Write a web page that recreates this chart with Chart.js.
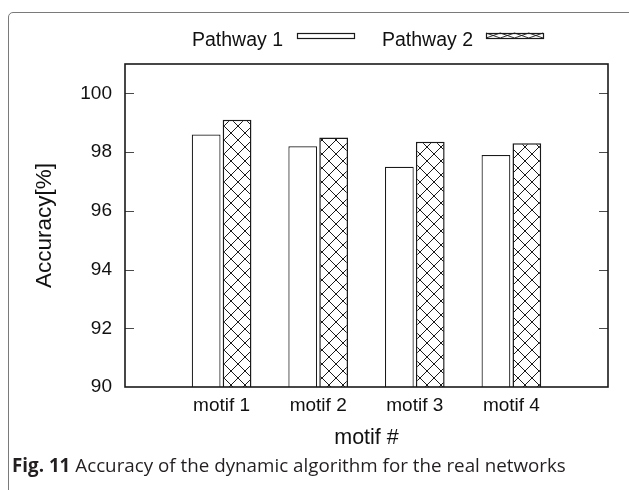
<!DOCTYPE html>
<html><head><meta charset="utf-8">
<script src="https://cdn.jsdelivr.net/npm/chart.js@4/dist/chart.umd.min.js"></script>
<style>
html,body{margin:0;padding:0;background:#fff;width:629px;height:490px;overflow:hidden;}
#wrap{position:relative;width:629px;height:490px;}
#frame{position:absolute;left:8px;top:12px;width:700px;height:600px;border:1px solid #7a7a7a;border-radius:5px;box-sizing:border-box;}
canvas{position:absolute;left:0;top:0;}
#cap{position:absolute;left:12px;top:452px;font-family:'Open Sans',sans-serif;font-size:18.8px;color:#231f20;white-space:nowrap;z-index:2;}
</style></head><body>
<div id="wrap"><div id="frame"></div><canvas id="c" width="629" height="490"></canvas><div id="cap"><b>Fig. 11</b> Accuracy of the dynamic algorithm for the real networks</div></div>
<script>
const categories = ['motif 1', 'motif 2', 'motif 3', 'motif 4'];
const pathway1 = [98.6, 98.2, 97.5, 97.9];
const pathway2 = [99.1, 98.5, 98.35, 98.3];
const seriesNames = ['Pathway 1', 'Pathway 2'];
const yMin = 90, yMax = 101, yStep = 2;
const xTitle = 'motif #';
const yTitle = 'Accuracy[%]';

// pad category axis with an empty slot on each side
const labels = [''].concat(categories, ['']);
const pad = arr => [null].concat(arr, [null]);

function makeHatch(){
  const t = document.createElement('canvas');
  t.width = 14; t.height = 14;
  const g = t.getContext('2d');
  g.fillStyle = '#fff'; g.fillRect(0,0,14,14);
  g.strokeStyle = '#1a1a1a'; g.lineWidth = 1;
  g.beginPath();
  g.moveTo(-1,-1); g.lineTo(15,15);
  g.moveTo(15,-1); g.lineTo(-1,15);
  g.stroke();
  return document.getElementById('c').getContext('2d').createPattern(t,'repeat');
}
const hatch = makeHatch();
const FONT = "'Liberation Sans', Arial, sans-serif";

const framePlugin = {
  id: 'frameTicks',
  afterDatasetsDraw(chart){
    const {ctx, chartArea:a, scales:{y}} = chart;
    ctx.save();
    ctx.strokeStyle = '#4a4a4a'; ctx.lineWidth = 1;
    y.ticks.forEach(t => {
      const py = Math.round(y.getPixelForValue(t.value)) + 0.5;
      if (py <= a.top + 2 || py >= a.bottom - 2) return;
      ctx.beginPath();
      ctx.moveTo(a.left, py); ctx.lineTo(a.left + 9, py);
      ctx.moveTo(a.right - 9, py); ctx.lineTo(a.right, py);
      ctx.stroke();
    });
    ctx.strokeStyle = '#1a1a1a'; ctx.lineWidth = 1.6;
    ctx.strokeRect(a.left, a.top, a.right - a.left, a.bottom - a.top);
    ctx.restore();
  },
  afterDraw(chart){
    const ctx = chart.ctx;
    const ds = chart.data.datasets;
    const textRight = [283, 473];
    const boxX = [297, 486];
    ctx.save();
    ctx.font = '19.5px ' + FONT;
    ctx.textAlign = 'right';
    ctx.textBaseline = 'alphabetic';
    ds.forEach((d, i) => {
      ctx.fillStyle = '#111';
      ctx.fillText(d.label, textRight[i], 46);
      const bx = boxX[i], by = 33, bw = 57, bh = 5;
      ctx.fillStyle = '#fff';
      ctx.fillRect(bx, by, bw, bh);
      if (i === 1) {
        ctx.strokeStyle = '#1a1a1a'; ctx.lineWidth = 0.9;
        ctx.beginPath();
        const n = 4, step = bw / n;
        for (let k = 0; k < n; k++) {
          ctx.moveTo(bx + k*step, by); ctx.lineTo(bx + (k+1)*step, by + bh);
          ctx.moveTo(bx + (k+1)*step, by); ctx.lineTo(bx + k*step, by + bh);
        }
        ctx.stroke();
      }
      ctx.strokeStyle = '#1a1a1a'; ctx.lineWidth = 1.2;
      ctx.strokeRect(bx + 0.5, by + 0.5, bw, bh);
    });
    ctx.restore();
  }
};

new Chart(document.getElementById('c'), {
  type: 'bar',
  data: {
    labels: labels,
    datasets: [
      { label: seriesNames[0], data: pad(pathway1), backgroundColor: '#fff', borderColor: '#1a1a1a', borderWidth: 1.2 },
      { label: seriesNames[1], data: pad(pathway2), backgroundColor: hatch, borderColor: '#1a1a1a', borderWidth: 1.5 }
    ]
  },
  options: {
    responsive: false,
    animation: false,
    devicePixelRatio: 1,
    layout: { padding: { top: 64, right: 21, bottom: 33, left: 0 } },
    datasets: { bar: { categoryPercentage: 0.64, barPercentage: 0.93 } },
    plugins: { legend: { display: false }, tooltip: { enabled: false } },
    scales: {
      x: {
        type: 'category',
        offset: false,
        grid: { display: false, drawTicks: false },
        border: { display: false },
        ticks: { color: '#111', font: { family: FONT, size: 19 }, padding: 7, maxRotation: 0, autoSkip: false },
        title: { display: true, text: xTitle, color: '#111', font: { family: FONT, size: 21.5 }, padding: { top: 0, bottom: 6 } },
        afterFit(s){ s.height = 70; }
      },
      y: {
        min: yMin, max: yMax,
        grid: { display: false, drawTicks: false },
        border: { display: false },
        ticks: { stepSize: yStep, includeBounds: false, color: '#111', font: { family: FONT, size: 19 }, padding: 13 },
        title: { display: true, text: yTitle, color: '#111', font: { family: FONT, size: 22.5 }, padding: { top: 31, bottom: 0 } },
        afterFit(s){ s.width = 125; }
      }
    }
  },
  plugins: [framePlugin]
});
</script>
</body></html>
